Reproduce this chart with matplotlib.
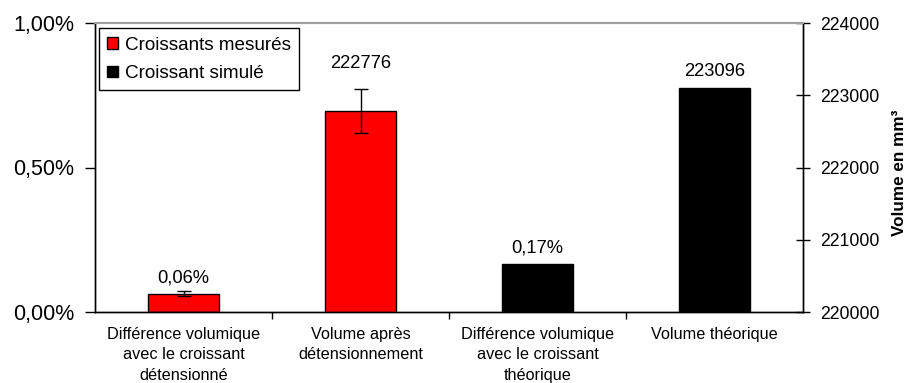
import matplotlib
matplotlib.use("Agg")
import matplotlib.pyplot as plt
from matplotlib.ticker import FuncFormatter, FixedLocator
from matplotlib.patches import Patch

plt.rcParams['font.family'] = ['Liberation Sans', 'DejaVu Sans']

categories = ["Différence volumique\navec le croissant\ndétensionné",
              "Volume après\ndétensionnement",
              "Différence volumique\navec le croissant\nthéorique",
              "Volume théorique"]
pct_values = [0.063, None, 0.165, None]          # % (left axis)
pct_errors = [0.009, None, None, None]
vol_values = [None, 222776, None, 223096]        # mm3 (right axis)
vol_errors = [None, 305, None, None]
pct_labels = ["0,06%", None, "0,17%", None]
vol_labels = [None, "222776", None, "223096"]
series_names = ["Croissants mesurés", "Croissant simulé"]
bar_series = [0, 0, 1, 1]
colors = ["#ff0000", "#000000"]
label_offsets = [11.5, 34.5, 11.5, 12]

fig = plt.figure(figsize=(9.09, 3.83), dpi=100)
ax = fig.add_axes([95/909, 1-312/383, 708/909, 289/383])
ax2 = ax.twinx()

width = 0.4
for i in range(4):
    c = colors[bar_series[i]]
    if pct_values[i] is not None:
        ax.bar(i, pct_values[i], width=width, color=c, edgecolor='black', linewidth=1.0, zorder=2)
        if pct_errors[i] is not None:
            ax.errorbar(i, pct_values[i], yerr=pct_errors[i], fmt='none', ecolor='black',
                        elinewidth=1.0, capsize=5, capthick=1.0, zorder=3)
        ax.annotate(pct_labels[i], (i, pct_values[i]), xytext=(0, label_offsets[i]),
                    textcoords='offset points', ha='center', va='center', fontsize=13.2, color='black')
    if vol_values[i] is not None:
        ax2.bar(i, vol_values[i] - 220000, bottom=220000, width=width, color=c,
                edgecolor='black', linewidth=1.0, zorder=2)
        if vol_errors[i] is not None:
            ax2.errorbar(i, vol_values[i], yerr=vol_errors[i], fmt='none', ecolor='black',
                         elinewidth=1.0, capsize=5, capthick=1.0, zorder=3)
        ax2.annotate(vol_labels[i], (i, vol_values[i]), xytext=(0, label_offsets[i]),
                     textcoords='offset points', ha='center', va='center', fontsize=13.2, color='black')

ax.set_xlim(-0.5, 3.5)
ax.set_ylim(0, 1.0)
ax2.set_ylim(220000, 224000)

ax.set_yticks([0, 0.5, 1.0])
ax.yaxis.set_major_formatter(FuncFormatter(lambda v, p: f"{v:.2f}%".replace('.', ',')))
ax.tick_params(axis='y', direction='out', length=7, width=1, pad=8, labelsize=15.5)

ax2.set_yticks([220000, 221000, 222000, 223000, 224000])
ax2.tick_params(axis='y', direction='inout', length=10, width=1, pad=7, labelsize=12.7)
fig.text(899.5/909, (383-173)/383, "Volume en mm³", rotation=90, ha='center', va='center',
         fontsize=12.3, fontweight='bold')

# category ticks at boundaries
ax.xaxis.set_major_locator(FixedLocator([0.5, 1.5, 2.5]))
ax.set_xticklabels([])
ax.tick_params(axis='x', direction='out', length=5, width=1)
for i, lab in enumerate(categories):
    ax.text(i, -0.052, lab, transform=ax.get_xaxis_transform(), ha='center', va='top',
            fontsize=11.7, linespacing=1.45)

for a in (ax, ax2):
    a.spines['top'].set_color('#a0a0a0')
    a.spines['top'].set_linewidth(1.5)
    a.spines['left'].set_linewidth(1)
    a.spines['right'].set_linewidth(1)
    a.spines['bottom'].set_linewidth(1)
    a.patch.set_visible(False)

handles = [Patch(facecolor=colors[k], edgecolor='black', linewidth=1.0, label=series_names[k]) for k in range(2)]
leg = ax.legend(handles=handles, loc='upper left', bbox_to_anchor=(4/708, 1 - 5.3/289), fontsize=13.6,
                frameon=True, fancybox=False, edgecolor='black', framealpha=1,
                handlelength=0.55, handleheight=0.55, handletextpad=0.39, borderpad=0.44,
                labelspacing=0.6, borderaxespad=0)
leg.get_frame().set_linewidth(1.0)

fig.savefig("out.png", dpi=100)
